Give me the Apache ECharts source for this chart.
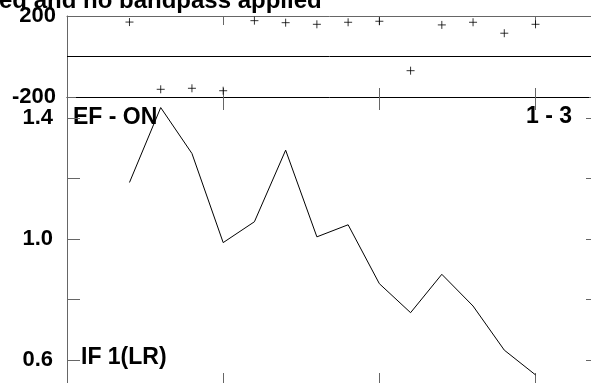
<!DOCTYPE html>
<html>
<head>
<meta charset="utf-8">
<script src="https://cdn.jsdelivr.net/npm/echarts@6/dist/echarts.min.js"></script>
<style>html,body{margin:0;padding:0;background:#fff}#c{width:591px;height:383px}</style>
</head>
<body>
<div id="c"></div>
<script>
// x positions (shared by both panels)
const xVals = [2, 3, 4, 5, 6, 7, 8, 9, 10, 11, 12, 13, 14, 15]
// top panel: phase-like values (+ markers)
const phase = [170, -162, -157, -169, 177, 167, 159, 169, 174, -70, 156, 169, 115, 159]
// bottom panel: amplitude line
const amp = [1.187, 1.435, 1.283, 0.988, 1.057, 1.294, 1.007, 1.047, 0.852, 0.756, 0.883, 0.778, 0.632, 0.55]
const topTicks = [-200, 0, 200]
const topLabels = [-200, 200]
const ampTicks = [0.6, 0.8, 1.0, 1.2, 1.4]
const ampLabels = [0.6, 1.0, 1.4]
const titleText = 'ed and no bandpass applied'

const font = { fontFamily: 'Liberation Sans, Arial, sans-serif', fontWeight: 'bold', fontSize: 22, color: '#000' }
const grey = '#666'
const xBase = {
  type: 'value', min: 0, max: 17, interval: 5,
  axisLabel: { show: false }, splitLine: { show: false }
}
const chart = echarts.init(document.getElementById('c'))
chart.setOption({
  animation: false,
  grid: [
    { left: 67, top: 16, width: 531, height: 81, outerBoundsMode: 'none', containLabel: false },
    { left: 67, top: 97, width: 531, height: 293, outerBoundsMode: 'none', containLabel: false }
  ],
  xAxis: [
    { ...xBase, gridIndex: 0, position: 'bottom', axisLine: { onZero: false, lineStyle: { color: '#000' } },
      axisTick: { inside: true, length: 9, lineStyle: { color: grey } } },
    { ...xBase, gridIndex: 0, position: 'top', axisLine: { onZero: false, lineStyle: { color: grey } },
      axisTick: { inside: true, length: 9, lineStyle: { color: grey } } },
    { ...xBase, gridIndex: 1, position: 'top', axisLine: { show: false, onZero: false },
      axisTick: { inside: true, length: 13, lineStyle: { color: grey } } },
    { ...xBase, gridIndex: 1, position: 'bottom', axisLine: { show: false, onZero: false },
      axisTick: { inside: true, length: 17, lineStyle: { color: grey } } }
  ],
  yAxis: [
    { type: 'value', gridIndex: 0, min: -200, max: 200, position: 'left',
      axisLine: { show: true, onZero: false, lineStyle: { color: grey } },
      axisTick: { show: true, inside: true, length: 9, customValues: topTicks, lineStyle: { color: grey } },
      axisLabel: { ...font, margin: 11, customValues: topLabels }, splitLine: { show: false } },
    { type: 'value', gridIndex: 0, min: -200, max: 200, position: 'right',
      axisLine: { show: true, onZero: false, lineStyle: { color: grey } },
      axisTick: { show: true, inside: true, length: 9, customValues: topTicks, lineStyle: { color: grey } },
      axisLabel: { show: false }, splitLine: { show: false } },
    { type: 'value', gridIndex: 1, min: 0.5, max: 1.47, position: 'left',
      axisLine: { show: true, onZero: false, lineStyle: { color: grey } },
      axisTick: { show: true, inside: true, length: 13, customValues: ampTicks, lineStyle: { color: grey } },
      axisLabel: { ...font, margin: 14, customValues: ampLabels, formatter: v => v.toFixed(1) },
      splitLine: { show: false } },
    { type: 'value', gridIndex: 1, min: 0.5, max: 1.47, position: 'right',
      axisLine: { show: true, onZero: false, lineStyle: { color: grey } },
      axisTick: { show: true, inside: true, length: 12, customValues: ampTicks, lineStyle: { color: grey } },
      axisLabel: { show: false }, splitLine: { show: false } }
  ],
  series: [
    {
      type: 'scatter', xAxisIndex: 0, yAxisIndex: 0,
      data: xVals.map((x, i) => [x, phase[i]]),
      symbol: 'path://M0,5L10,5M5,0L5,10', symbolSize: 8,
      itemStyle: { color: 'rgba(0,0,0,0)', borderColor: '#000', borderWidth: 1 },
      markLine: { silent: true, symbol: 'none', label: { show: false },
        lineStyle: { color: '#000', type: 'solid', width: 1 }, data: [{ yAxis: 0 }] }
    },
    {
      type: 'line', xAxisIndex: 3, yAxisIndex: 2,
      data: xVals.map((x, i) => [x, amp[i]]),
      showSymbol: false, lineStyle: { color: '#000', width: 1 }
    }
  ],
  graphic: [
    { type: 'text', left: -1, top: -11, style: { text: titleText, font: 'bold 24px Liberation Sans', fill: '#000' } },
    { type: 'text', x: 73, y: 118, style: { text: 'EF - ON', font: 'bold 23px Liberation Sans', fill: '#000', verticalAlign: 'middle' } },
    { type: 'text', x: 572, y: 117, style: { text: '1 - 3', font: 'bold 23px Liberation Sans', fill: '#000', align: 'right', verticalAlign: 'middle' } },
    { type: 'text', x: 81, y: 358, style: { text: 'IF 1(LR)', font: 'bold 23px Liberation Sans', fill: '#000', verticalAlign: 'middle' } }
  ]
})
</script>
</body>
</html>
